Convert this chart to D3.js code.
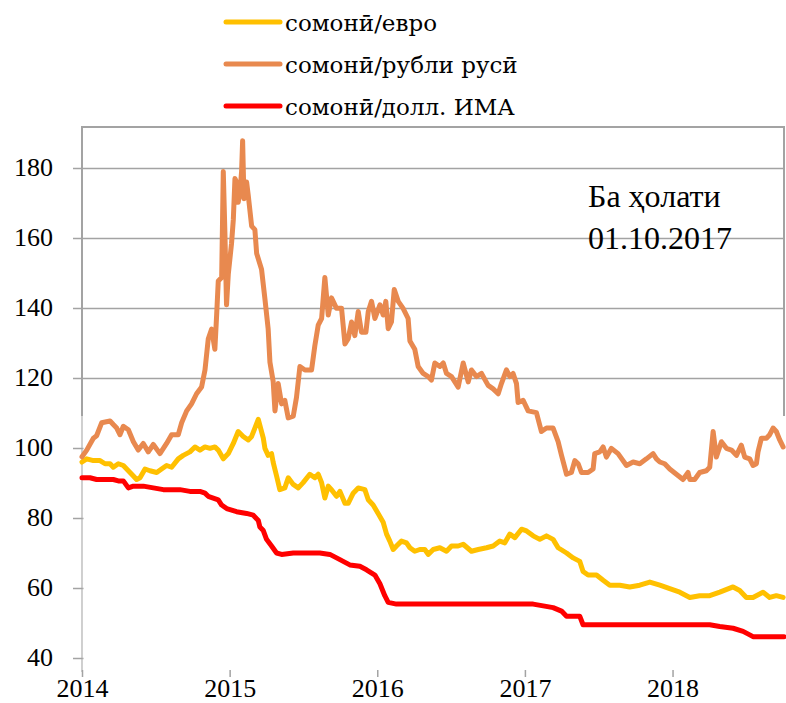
<!DOCTYPE html>
<html>
<head>
<meta charset="utf-8">
<script src="https://cdn.jsdelivr.net/npm/d3@7.9.0/dist/d3.min.js"></script>
<style>
  body { margin: 0; background: #fff; }
  svg { display: block; font-family: "Liberation Serif", "DejaVu Serif", serif; }
</style>
</head>
<body>
<div id="chart"></div>
<script>
// series names (legend order)
const seriesNames = ["сомонӣ/евро", "сомонӣ/рубли русӣ", "сомонӣ/долл. ИМА"];
const seriesColors = ["#FFC000", "#E8894F", "#FF0000"];

const yTicks = [40, 60, 80, 100, 120, 140, 160, 180];
const xTicks = [2014, 2015, 2016, 2017, 2018];

const noteLines = ["Ба ҳолати", "01.10.2017"];

// [year, index] pairs
const euroData = [
  [2014.000, 96.0], [2014.032, 96.9], [2014.077, 96.4], [2014.122, 96.4], [2014.156, 95.5],
  [2014.190, 95.5], [2014.212, 94.5], [2014.246, 95.5], [2014.280, 95.0], [2014.314, 93.5],
  [2014.348, 92.0], [2014.370, 91.0], [2014.393, 91.5], [2014.427, 94.0], [2014.460, 93.5],
  [2014.506, 93.0], [2014.539, 94.0], [2014.573, 95.0], [2014.607, 94.5], [2014.652, 96.9],
  [2014.686, 97.9], [2014.731, 98.9], [2014.765, 100.3], [2014.799, 99.4], [2014.833, 100.3],
  [2014.867, 99.9], [2014.900, 100.3], [2014.923, 99.4], [2014.957, 96.9], [2014.991, 98.4],
  [2015.025, 101.3], [2015.058, 104.7], [2015.092, 103.3], [2015.126, 102.3], [2015.149, 103.3],
  [2015.171, 105.7], [2015.194, 108.2], [2015.228, 102.8], [2015.239, 99.9], [2015.261, 97.9],
  [2015.284, 98.4], [2015.295, 95.9], [2015.318, 92.0], [2015.340, 88.1], [2015.374, 88.6],
  [2015.397, 91.5], [2015.431, 89.6], [2015.465, 88.6], [2015.498, 90.1], [2015.543, 92.5],
  [2015.577, 91.5], [2015.600, 92.5], [2015.623, 90.1], [2015.645, 85.7], [2015.668, 89.1],
  [2015.690, 88.1], [2015.724, 86.2], [2015.747, 87.6], [2015.781, 84.2], [2015.803, 84.2],
  [2015.837, 87.1], [2015.871, 88.6], [2015.916, 88.1], [2015.939, 85.2], [2015.972, 83.7],
  [2016.006, 81.3], [2016.040, 78.8], [2016.063, 75.4], [2016.085, 73.4], [2016.108, 71.0],
  [2016.130, 72.0], [2016.164, 73.4], [2016.198, 72.9], [2016.221, 71.5], [2016.254, 70.5],
  [2016.288, 71.0], [2016.322, 71.0], [2016.345, 69.6], [2016.379, 71.0], [2016.424, 71.5],
  [2016.469, 70.5], [2016.503, 72.0], [2016.548, 72.0], [2016.582, 72.5], [2016.638, 70.5],
  [2016.684, 71.0], [2016.740, 71.5], [2016.785, 72.0], [2016.830, 73.4], [2016.864, 72.9],
  [2016.898, 75.4], [2016.932, 74.4], [2016.977, 76.8], [2017.011, 76.3], [2017.056, 74.9],
  [2017.101, 73.9], [2017.146, 74.9], [2017.191, 73.9], [2017.225, 71.5], [2017.282, 70.0],
  [2017.327, 68.6], [2017.372, 67.6], [2017.394, 64.7], [2017.428, 63.7], [2017.485, 63.7],
  [2017.530, 62.2], [2017.575, 60.8], [2017.609, 60.8], [2017.643, 60.8], [2017.710, 60.3],
  [2017.778, 60.8], [2017.846, 61.7], [2017.914, 60.8], [2017.981, 59.8], [2018.049, 58.8],
  [2018.117, 57.3], [2018.184, 57.8], [2018.252, 57.8], [2018.320, 58.8], [2018.410, 60.3],
  [2018.455, 59.3], [2018.500, 57.3], [2018.545, 57.3], [2018.613, 58.8], [2018.658, 57.3],
  [2018.703, 57.8], [2018.749, 57.3]
];

const rubleData = [
  [2014.000, 97.5], [2014.032, 99.4], [2014.077, 102.8], [2014.099, 103.5], [2014.133, 107.2],
  [2014.190, 107.7], [2014.212, 106.7], [2014.235, 105.7], [2014.257, 103.8], [2014.280, 106.2],
  [2014.314, 105.2], [2014.348, 101.8], [2014.381, 99.4], [2014.415, 101.3], [2014.449, 98.9],
  [2014.483, 101.0], [2014.528, 98.4], [2014.573, 101.3], [2014.607, 103.8], [2014.652, 103.8],
  [2014.675, 107.2], [2014.709, 110.6], [2014.742, 112.6], [2014.776, 115.5], [2014.810, 117.4],
  [2014.833, 122.3], [2014.855, 131.1], [2014.878, 134.0], [2014.900, 128.2], [2014.912, 138.0],
  [2014.923, 147.7], [2014.946, 148.7], [2014.957, 179.0], [2014.968, 161.4], [2014.979, 140.9],
  [2014.991, 149.7], [2015.013, 158.5], [2015.025, 165.3], [2015.036, 177.0], [2015.047, 176.0],
  [2015.058, 170.2], [2015.070, 173.2], [2015.081, 179.0], [2015.088, 187.8], [2015.097, 171.2],
  [2015.115, 176.0], [2015.126, 172.2], [2015.149, 163.4], [2015.171, 162.4], [2015.183, 155.6],
  [2015.216, 151.1], [2015.239, 142.6], [2015.261, 134.0], [2015.273, 124.5], [2015.295, 119.0],
  [2015.307, 110.6], [2015.329, 118.4], [2015.352, 112.6], [2015.374, 113.6], [2015.397, 108.6],
  [2015.431, 109.1], [2015.453, 114.5], [2015.476, 123.3], [2015.510, 122.3], [2015.555, 122.3],
  [2015.577, 129.2], [2015.600, 135.1], [2015.623, 137.0], [2015.645, 148.7], [2015.668, 138.0],
  [2015.690, 142.9], [2015.724, 139.9], [2015.758, 139.9], [2015.781, 129.7], [2015.803, 131.2],
  [2015.826, 136.0], [2015.848, 132.1], [2015.871, 139.0], [2015.893, 133.1], [2015.923, 133.1],
  [2015.939, 139.0], [2015.961, 141.9], [2015.984, 137.0], [2016.018, 140.9], [2016.040, 138.0],
  [2016.058, 141.9], [2016.074, 134.1], [2016.096, 136.0], [2016.115, 145.3], [2016.142, 141.9],
  [2016.175, 139.9], [2016.209, 137.0], [2016.221, 130.6], [2016.254, 128.2], [2016.277, 123.3],
  [2016.311, 121.3], [2016.345, 120.4], [2016.367, 119.4], [2016.390, 124.3], [2016.424, 123.3],
  [2016.447, 124.3], [2016.469, 121.3], [2016.503, 120.4], [2016.548, 117.4], [2016.582, 124.3],
  [2016.616, 118.9], [2016.638, 122.3], [2016.672, 120.4], [2016.706, 121.3], [2016.751, 117.9],
  [2016.785, 116.9], [2016.819, 115.5], [2016.841, 118.4], [2016.875, 122.3], [2016.898, 120.4],
  [2016.920, 121.3], [2016.943, 118.4], [2016.954, 113.0], [2016.988, 113.6], [2017.022, 110.6],
  [2017.078, 110.1], [2017.112, 104.7], [2017.146, 105.7], [2017.191, 105.7], [2017.225, 101.8],
  [2017.248, 97.9], [2017.282, 92.5], [2017.315, 93.0], [2017.338, 96.4], [2017.361, 95.5],
  [2017.383, 93.0], [2017.428, 93.0], [2017.462, 94.0], [2017.473, 98.4], [2017.507, 98.9],
  [2017.530, 100.3], [2017.552, 97.4], [2017.586, 99.9], [2017.631, 98.4], [2017.688, 95.0],
  [2017.733, 96.0], [2017.778, 95.5], [2017.823, 96.9], [2017.868, 98.4], [2017.891, 96.9],
  [2017.914, 96.0], [2017.947, 95.5], [2017.981, 94.0], [2018.026, 92.5], [2018.071, 91.0],
  [2018.105, 93.0], [2018.117, 91.0], [2018.150, 91.0], [2018.184, 93.0], [2018.229, 93.5],
  [2018.252, 94.5], [2018.275, 104.7], [2018.297, 97.4], [2018.331, 101.8], [2018.365, 99.9],
  [2018.399, 99.4], [2018.433, 97.9], [2018.466, 100.8], [2018.489, 97.4], [2018.523, 96.9],
  [2018.545, 95.0], [2018.568, 95.5], [2018.579, 98.9], [2018.602, 102.8], [2018.636, 102.8],
  [2018.658, 103.8], [2018.681, 105.7], [2018.703, 104.7], [2018.726, 102.3], [2018.749, 100.3]
];

const usdData = [
  [2014.000, 91.5], [2014.054, 91.5], [2014.099, 91.0], [2014.167, 91.0], [2014.212, 91.0],
  [2014.246, 90.6], [2014.280, 90.6], [2014.314, 88.6], [2014.348, 89.1], [2014.415, 89.1],
  [2014.483, 88.6], [2014.551, 88.1], [2014.618, 88.1], [2014.663, 88.1], [2014.731, 87.6],
  [2014.799, 87.6], [2014.833, 87.1], [2014.855, 86.2], [2014.889, 85.7], [2014.923, 85.2],
  [2014.946, 83.7], [2014.980, 82.7], [2015.047, 81.8], [2015.115, 81.3], [2015.160, 80.8],
  [2015.194, 79.3], [2015.205, 77.4], [2015.228, 76.4], [2015.250, 73.9], [2015.284, 72.0],
  [2015.318, 70.0], [2015.352, 69.6], [2015.431, 70.0], [2015.611, 70.0], [2015.679, 69.6],
  [2015.747, 68.1], [2015.814, 66.6], [2015.882, 66.2], [2015.927, 65.2], [2015.984, 63.7],
  [2016.018, 61.2], [2016.051, 57.8], [2016.074, 55.9], [2016.130, 55.4], [2017.056, 55.4],
  [2017.124, 54.9], [2017.191, 54.4], [2017.248, 53.4], [2017.282, 51.9], [2017.372, 51.9],
  [2017.394, 49.5], [2018.252, 49.5], [2018.320, 49.0], [2018.410, 48.5], [2018.478, 47.6],
  [2018.523, 46.6], [2018.545, 46.1], [2018.755, 46.1]
];

const allSeries = [euroData, rubleData, usdData];

const width = 786;
const height = 703;

const plot = { left: 82, right: 784, top: 127, coverTop: 416, bottom: 669 };

const svg = d3.select("#chart")
  .append("svg")
  .attr("width", width)
  .attr("height", height);

const xScale = d3.scaleLinear()
  .domain([2014, 2018.755])
  .range([plot.left, plot.right]);

const yScale = d3.scaleLinear()
  .domain([40, 180])
  .range([658, 168]);

// gridlines
svg.append("g")
  .attr("transform", `translate(${plot.left},0)`)
  .call(d3.axisLeft(yScale).tickValues(yTicks).tickFormat("").tickSize(-(plot.right - plot.left)))
  .call(g => g.select(".domain").remove())
  .call(g => g.selectAll("line").attr("stroke", "#a3a3a3").attr("stroke-width", 1.6));

// plot frame (top / right / left)
svg.append("path")
  .attr("d", `M${plot.left},${plot.coverTop} V${plot.top} H${plot.right} V${plot.coverTop}`)
  .attr("fill", "none")
  .attr("stroke", "#a3a3a3")
  .attr("stroke-width", 2);

// white patch over the lower part of the plot
svg.append("rect")
  .attr("x", plot.left + 1.5)
  .attr("y", plot.coverTop)
  .attr("width", width - plot.left)
  .attr("height", plot.bottom - plot.coverTop)
  .attr("fill", "#fff");

svg.append("line")
  .attr("x1", plot.left).attr("x2", plot.left)
  .attr("y1", plot.coverTop).attr("y2", plot.bottom + 3)
  .attr("stroke", "#b0b0b0")
  .attr("stroke-width", 1.2);

// y axis ticks + labels
const yAxis = svg.append("g")
  .attr("transform", `translate(${plot.left},0)`)
  .call(d3.axisLeft(yScale).tickValues(yTicks).tickSize(9).tickPadding(20))
  .call(g => g.select(".domain").remove());
yAxis.selectAll("line").attr("stroke", "#a3a3a3").attr("stroke-width", 1.5);
yAxis.selectAll("text")
  .style("font-family", "'Liberation Serif', serif")
  .style("font-size", "26px")
  .attr("fill", "#000")
  .attr("dy", "0.28em");

// x axis ticks + labels
const xAxis = svg.append("g")
  .attr("transform", `translate(0,${plot.bottom + 1})`)
  .call(d3.axisBottom(xScale).tickValues(xTicks).tickFormat(d3.format("d")).tickSize(7).tickPadding(2))
  .call(g => g.select(".domain").remove());
xAxis.selectAll("line").attr("stroke", "#a3a3a3").attr("stroke-width", 1.5);
xAxis.selectAll("text")
  .style("font-family", "'Liberation Serif', serif")
  .style("font-size", "26px")
  .attr("fill", "#000")
  .attr("dy", "0.7em");

// series lines
const line = d3.line()
  .x(d => xScale(d[0]))
  .y(d => yScale(d[1]));

svg.append("g")
  .selectAll("path")
  .data(allSeries)
  .join("path")
  .attr("d", line)
  .attr("fill", "none")
  .attr("stroke", (d, i) => seriesColors[i])
  .attr("stroke-width", 5)
  .attr("stroke-linejoin", "round")
  .attr("stroke-linecap", "round");

// note
svg.append("g")
  .selectAll("text")
  .data(noteLines)
  .join("text")
  .attr("x", 588)
  .attr("y", (d, i) => 207 + i * 42)
  .style("font-family", "'Liberation Serif', serif")
  .style("font-size", "32px")
  .attr("fill", "#000")
  .text(d => d);

// legend
const legend = svg.append("g")
  .selectAll("g")
  .data(seriesNames)
  .join("g")
  .attr("transform", (d, i) => `translate(226,${22 + i * 42})`);

legend.append("line")
  .attr("x1", 0).attr("x2", 54)
  .attr("stroke", (d, i) => seriesColors[i])
  .attr("stroke-width", 5)
  .attr("stroke-linecap", "round");

legend.append("text")
  .attr("x", 59)
  .attr("y", 9)
  .style("font-family", "'DejaVu Serif', serif")
  .style("font-size", "23px")
  .attr("fill", "#000")
  .text(d => d);
</script>
</body>
</html>
